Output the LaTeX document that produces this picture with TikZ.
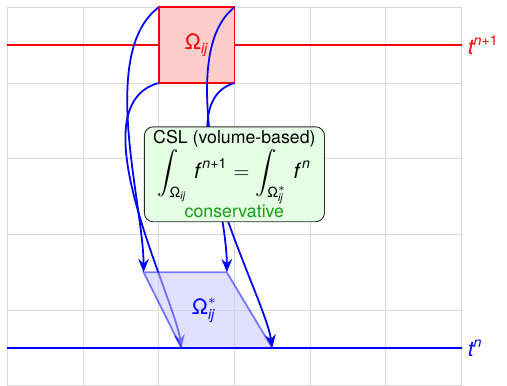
\documentclass[tikz,border=0pt]{standalone}
\usepackage{amsmath}
\usepackage{fontspec}
\setmainfont{TeX Gyre Heros}
\usetikzlibrary{arrows.meta}
\newcommand{\sfit}[1]{\text{\itshape #1}}
\newcommand{\Omg}{\text{Ω}}
\definecolor{cslgreen}{RGB}{20,160,20}
\begin{document}
\begin{tikzpicture}[x=1.5cm,y=1.5cm,
  gridline/.style={draw=black!15,line width=0.5pt},
  redline/.style={draw=red,line width=1pt},
  blueline/.style={draw=blue,line width=1pt},
  cell/.style={draw=red,fill=red!20,line width=1pt},
  foot/.style={fill={rgb,255:red,200;green,200;blue,255},fill opacity=0.55,draw=blue,draw opacity=0.5,line width=1pt},
  charc/.style={draw=blue,line width=1pt,-{Stealth[length=7.5pt,width=6pt,inset=2.5pt]}},
  cslbox/.style={draw=black!85,fill=green!10,rounded corners=5pt,line width=0.5pt,align=center,inner xsep=5pt,inner ysep=2pt},
  lab/.style={inner sep=2pt,font=\large}]
\useasboundingbox (-0.0964,0.0106) rectangle (6.601,5.0964);
\draw[gridline,step=1.5cm] (0,0) grid (6,5);
% time levels
\coordinate (R0) at (0,4.5);
\coordinate (B0) at (0,0.5);
\node[anchor=west,text=red,font=\large] (tn1) at (6,4.5) {$\sfit{t}^{\sfit{n}\text{+1}}$};
\node[anchor=west,text=blue,font=\large] (tn) at (6,0.5) {$\sfit{t}^{\sfit{n}}$};
\draw[redline] (R0) -- (tn1.west);
% cell
\coordinate (TL) at (2,5);
\coordinate (BL) at (2,4);
\coordinate (TR) at (3,5);
\coordinate (BR) at (3,4);
\draw[cell] (BL) rectangle (TR);
\node[text=red,lab] (om) at (2.5,4.5) {$\Omg_{\sfit{ij}}$};
% departure region
\coordinate (P1) at (1.8,1.5);
\coordinate (P2) at (2.9,1.5);
\coordinate (P3) at (3.5,0.5);
\coordinate (P4) at (2.3,0.5);
% characteristics
\draw[charc] (TL) .. controls (1.2,4.4) and (1.8,2.4) .. (P1);
\draw[charc] (BL) .. controls (0.9,3.7) and (2.2,1.2) .. (P4);
\draw[charc] (TR) .. controls (2.25,4.4) and (2.9,2.4) .. (P2);
\draw[charc] (BR) .. controls (2.0,3.7) and (3.4,1.2) .. (P3);
\draw[foot] (P1) -- (P2) -- (P3) -- (P4) -- cycle;
\draw[blueline] (B0) -- (tn.west);
\node[text=blue,lab] (oms) at (2.6,1.0) {$\Omg^{*}_{\sfit{ij}}$};
% CSL box
\node[cslbox] (csl) at (3,2.794) {CSL (volume-based)\\
  {\large$\displaystyle\int_{\Omg_{\sfit{ij}}}\, \sfit{f}^{\,\sfit{n}\text{+1}} = \int_{\Omg^{*}_{\sfit{ij}}}\, \sfit{f}^{\,\sfit{n}}$}\\
  \textcolor{cslgreen}{conservative}};
\end{tikzpicture}
\end{document}
